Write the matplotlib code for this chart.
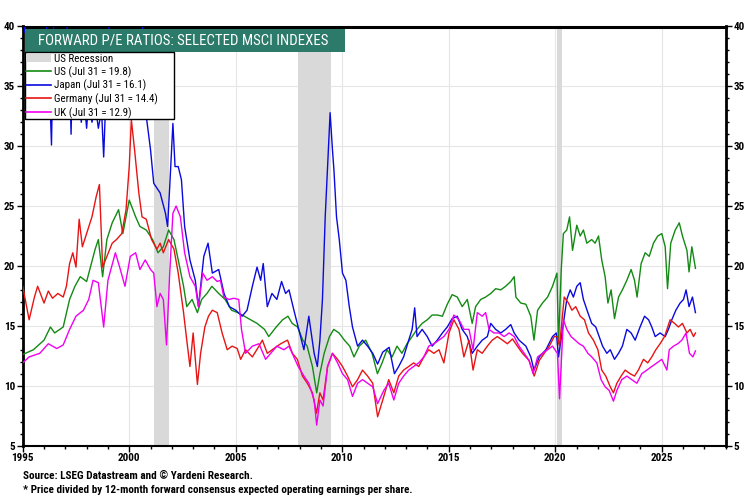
"""Forward P/E ratios: selected MSCI indexes (static matplotlib recreation)."""

import matplotlib

matplotlib.use("Agg")
import matplotlib.pyplot as plt
from matplotlib import font_manager
from matplotlib.patches import Rectangle
from matplotlib.ticker import MultipleLocator

# ---- data ------------------------------------------------------------------
us_years = [
    1995.0, 1995.5, 1996.0, 1996.3, 1996.5, 1996.9, 1997.2, 1997.45, 1997.7, 1998.0,
    1998.15, 1998.4, 1998.55, 1998.75, 1998.95, 1999.2, 1999.5, 1999.7, 2000.0, 2000.3,
    2000.5, 2000.8, 2001.1, 2001.35, 2001.6, 2001.85, 2002.1, 2002.3, 2002.55, 2002.7,
    2002.95, 2003.2, 2003.4, 2003.65, 2003.88, 2004.2, 2004.5, 2004.8, 2005.1, 2005.4,
    2005.7, 2006.0, 2006.35, 2006.55, 2006.9, 2007.2, 2007.45, 2007.65, 2007.9, 2008.15,
    2008.35, 2008.6, 2008.8, 2008.95, 2009.15, 2009.4, 2009.6, 2009.85, 2010.1, 2010.35,
    2010.55, 2010.8, 2011.1, 2011.4, 2011.65, 2011.87, 2012.1, 2012.34, 2012.57, 2012.8,
    2013.04, 2013.28, 2013.51, 2013.75, 2013.99, 2014.22, 2014.46, 2014.7, 2014.93, 2015.16,
    2015.4, 2015.63, 2015.87, 2016.1, 2016.26, 2016.5, 2016.73, 2016.97, 2017.2, 2017.44,
    2017.67, 2017.91, 2018.07, 2018.15, 2018.38, 2018.62, 2018.85, 2019.0, 2019.17, 2019.4,
    2019.64, 2019.87, 2020.08, 2020.15, 2020.28, 2020.38, 2020.54, 2020.67, 2020.81, 2021.01,
    2021.17, 2021.32, 2021.48, 2021.71, 2021.87, 2022.03, 2022.18, 2022.34, 2022.47, 2022.62,
    2022.78, 2022.97, 2023.15, 2023.36, 2023.56, 2023.72, 2023.84, 2024.03, 2024.22, 2024.41,
    2024.61, 2024.81, 2025.0, 2025.16, 2025.27, 2025.42, 2025.63, 2025.82, 2025.97, 2026.18,
    2026.28, 2026.41, 2026.58,
]
us_pe = [
    12.6, 13.0, 13.8, 14.9, 14.4, 14.9, 17.2, 18.3, 19.1, 18.7,
    19.7, 21.4, 22.2, 19.1, 22.2, 23.6, 24.7, 22.7, 25.5, 24.1,
    23.3, 23.0, 22.2, 21.1, 21.6, 23.0, 22.2, 20.5, 18.3, 16.6,
    17.2, 16.1, 17.2, 17.7, 18.3, 17.7, 17.2, 16.3, 16.1, 15.8,
    15.5, 15.2, 14.7, 14.1, 14.9, 15.5, 15.8, 15.2, 14.9, 13.8,
    13.3, 11.6, 9.4, 11.0, 12.7, 14.1, 14.7, 14.4, 13.8, 13.3,
    12.4, 13.3, 13.8, 12.7, 11.0, 11.9, 13.0, 12.4, 13.3, 12.7,
    13.5, 14.1, 14.7, 15.2, 15.5, 15.9, 15.9, 15.8, 16.8, 17.6,
    17.4, 16.6, 17.2, 15.2, 16.6, 17.2, 17.4, 17.7, 18.1, 18.0,
    18.3, 18.7, 19.1, 17.4, 16.9, 16.8, 15.8, 13.8, 16.3, 16.9,
    17.4, 18.3, 19.4, 13.5, 19.7, 22.7, 23.0, 24.1, 21.3, 23.4,
    22.5, 23.0, 21.9, 22.2, 21.9, 22.5, 20.5, 19.1, 16.9, 18.0,
    15.6, 17.4, 18.0, 18.8, 19.7, 18.8, 17.4, 20.2, 21.1, 20.8,
    21.9, 22.5, 22.7, 21.6, 18.1, 21.9, 23.0, 23.6, 22.5, 21.3,
    19.5, 21.6, 19.8,
]

japan_years = [
    1995.0, 1995.1, 1995.3, 1995.8, 1996.2, 1996.35, 1996.45, 1996.9, 1997.2, 1997.27,
    1997.35, 1997.6, 1997.75, 1997.85, 1998.0, 1998.1, 1998.25, 1998.4, 1998.55, 1998.7,
    1998.8, 1998.9, 1999.1, 1999.5, 2000.0, 2000.4, 2000.7, 2000.8, 2001.0, 2001.15,
    2001.45, 2001.7, 2001.8, 2001.9, 2002.05, 2002.15, 2002.3, 2002.45, 2002.6, 2002.85,
    2003.1, 2003.25, 2003.5, 2003.7, 2003.9, 2004.2, 2004.45, 2004.7, 2005.0, 2005.3,
    2005.53, 2005.78, 2006.0, 2006.17, 2006.29, 2006.48, 2006.7, 2006.93, 2007.15, 2007.34,
    2007.5, 2007.73, 2007.93, 2008.2, 2008.43, 2008.68, 2008.83, 2008.95, 2009.07, 2009.2,
    2009.31, 2009.43, 2009.54, 2009.61, 2009.73, 2009.86, 2010.01, 2010.17, 2010.33, 2010.48,
    2010.72, 2010.95, 2011.19, 2011.43, 2011.66, 2011.9, 2012.2, 2012.45, 2012.65, 2012.88,
    2013.12, 2013.28, 2013.4, 2013.51, 2013.75, 2013.99, 2014.22, 2014.46, 2014.7, 2014.93,
    2015.16, 2015.4, 2015.63, 2015.87, 2016.1, 2016.34, 2016.57, 2016.81, 2016.97, 2017.2,
    2017.44, 2017.67, 2017.91, 2018.07, 2018.3, 2018.62, 2018.85, 2019.0, 2019.25, 2019.56,
    2019.87, 2020.05, 2020.15, 2020.34, 2020.54, 2020.7, 2020.85, 2021.01, 2021.17, 2021.32,
    2021.53, 2021.71, 2021.9, 2022.06, 2022.22, 2022.42, 2022.58, 2022.78, 2022.97, 2023.15,
    2023.36, 2023.56, 2023.75, 2023.98, 2024.19, 2024.38, 2024.53, 2024.69, 2024.92, 2025.16,
    2025.31, 2025.47, 2025.66, 2025.86, 2026.02, 2026.14, 2026.28, 2026.44, 2026.58,
]
japan_pe = [
    42.0, 39.5, 44.0, 47.0, 38.0, 30.1, 40.0, 46.0, 36.0, 31.0,
    38.0, 35.0, 32.0, 34.5, 31.5, 34.0, 32.0, 33.5, 31.5, 33.0,
    29.1, 34.0, 42.0, 50.0, 55.0, 48.0, 37.0, 32.5, 29.7, 26.9,
    26.1, 24.4, 23.3, 26.6, 31.9, 28.3, 28.3, 27.2, 23.3, 20.5,
    18.8, 16.6, 20.8, 21.9, 19.4, 19.7, 17.7, 16.6, 16.3, 15.8,
    16.3, 18.3, 19.9, 18.8, 20.2, 16.6, 17.7, 17.2, 18.7, 17.7,
    18.0, 16.3, 14.9, 13.0, 15.8, 12.7, 11.6, 13.8, 17.2, 24.1,
    28.3, 32.8, 29.7, 28.0, 24.1, 22.2, 19.4, 18.8, 16.6, 14.9,
    13.3, 13.8, 13.3, 12.7, 11.8, 12.8, 13.2, 11.0, 11.6, 12.4,
    13.8, 14.7, 16.5, 14.1, 14.7, 14.1, 13.3, 13.8, 14.4, 14.9,
    15.6, 15.8, 14.7, 14.1, 12.7, 13.3, 13.8, 14.1, 15.2, 14.7,
    14.4, 14.7, 15.1, 14.4, 13.8, 13.3, 12.4, 11.3, 12.4, 13.0,
    14.1, 14.4, 12.4, 14.7, 17.2, 18.0, 17.4, 18.3, 18.6, 17.2,
    16.1, 15.2, 14.9, 14.1, 13.3, 12.7, 13.0, 12.2, 12.7, 13.3,
    14.7, 14.4, 13.8, 14.9, 15.8, 15.5, 14.9, 14.1, 14.4, 14.1,
    14.7, 15.5, 16.3, 16.9, 17.2, 18.0, 16.6, 17.4, 16.1,
]

germany_years = [
    1995.0, 1995.15, 1995.3, 1995.55, 1995.7, 1996.0, 1996.2, 1996.4, 1996.65, 1996.9,
    1997.05, 1997.2, 1997.35, 1997.5, 1997.65, 1997.8, 1998.0, 1998.25, 1998.45, 1998.6,
    1998.75, 1998.95, 1999.2, 1999.4, 1999.65, 1999.85, 2000.0, 2000.1, 2000.25, 2000.45,
    2000.6, 2000.8, 2001.05, 2001.3, 2001.45, 2001.6, 2001.85, 2002.1, 2002.3, 2002.55,
    2002.7, 2002.85, 2003.0, 2003.2, 2003.35, 2003.55, 2003.72, 2003.9, 2004.13, 2004.36,
    2004.6, 2004.83, 2005.07, 2005.23, 2005.46, 2005.78, 2006.09, 2006.25, 2006.48, 2006.79,
    2007.11, 2007.43, 2007.66, 2007.89, 2008.13, 2008.36, 2008.6, 2008.79, 2008.95, 2009.1,
    2009.31, 2009.54, 2009.78, 2010.01, 2010.25, 2010.48, 2010.72, 2010.95, 2011.19, 2011.43,
    2011.66, 2011.9, 2012.18, 2012.42, 2012.65, 2012.88, 2013.12, 2013.35, 2013.59, 2013.83,
    2014.06, 2014.3, 2014.54, 2014.77, 2015.01, 2015.24, 2015.48, 2015.71, 2015.95, 2016.14,
    2016.34, 2016.57, 2016.81, 2017.04, 2017.28, 2017.52, 2017.75, 2017.99, 2018.22, 2018.46,
    2018.77, 2019.01, 2019.25, 2019.48, 2019.72, 2019.95, 2020.1, 2020.2, 2020.42, 2020.62,
    2020.78, 2020.96, 2021.17, 2021.37, 2021.56, 2021.79, 2022.0, 2022.18, 2022.37, 2022.58,
    2022.73, 2022.89, 2023.09, 2023.28, 2023.51, 2023.72, 2023.9, 2024.14, 2024.34, 2024.53,
    2024.72, 2024.92, 2025.13, 2025.24, 2025.39, 2025.6, 2025.78, 2025.97, 2026.18, 2026.33,
    2026.49, 2026.58,
]
germany_pe = [
    18.3, 16.9, 15.5, 17.4, 18.3, 16.9, 17.9, 17.3, 17.7, 17.4,
    18.3, 20.2, 21.1, 19.9, 23.9, 21.6, 22.7, 24.1, 25.8, 26.8,
    19.9, 20.8, 21.9, 22.2, 22.7, 24.7, 28.3, 32.2, 29.7, 26.1,
    24.1, 23.9, 22.2, 21.4, 21.9, 21.1, 22.2, 21.4, 19.4, 16.1,
    13.8, 11.6, 14.4, 10.1, 12.7, 14.9, 15.8, 16.3, 16.1, 14.4,
    13.0, 13.3, 13.1, 12.2, 13.0, 12.4, 13.3, 13.8, 12.7, 13.1,
    13.5, 13.8, 12.7, 12.2, 10.8, 10.2, 9.4, 7.7, 9.4, 8.8,
    11.6, 12.7, 12.2, 11.6, 10.8, 9.9, 10.5, 11.3, 10.8, 10.2,
    7.4, 8.8, 10.5, 9.4, 10.8, 11.3, 11.6, 11.9, 11.6, 12.4,
    13.0, 12.7, 13.0, 11.9, 14.4, 15.5, 14.7, 12.4, 13.8, 11.3,
    13.0, 12.7, 13.3, 13.8, 14.1, 13.8, 13.5, 13.9, 13.3, 12.7,
    12.1, 10.8, 12.1, 12.7, 13.3, 14.1, 14.1, 13.3, 17.4, 16.9,
    16.3, 16.6, 15.8, 15.5, 14.4, 13.8, 13.0, 11.3, 10.8, 9.9,
    9.4, 10.2, 10.8, 11.3, 11.0, 10.8, 11.3, 12.2, 11.9, 12.4,
    13.0, 13.5, 14.1, 14.7, 15.5, 15.2, 14.9, 15.2, 14.4, 14.7,
    14.1, 14.4,
]

uk_years = [
    1995.0, 1995.3, 1995.8, 1996.2, 1996.6, 1996.9, 1997.2, 1997.5, 1997.85, 1998.1,
    1998.3, 1998.55, 1998.8, 1999.0, 1999.35, 1999.55, 1999.8, 2000.05, 2000.3, 2000.5,
    2000.75, 2001.0, 2001.15, 2001.3, 2001.45, 2001.6, 2001.75, 2001.9, 2002.05, 2002.2,
    2002.4, 2002.6, 2002.85, 2003.1, 2003.25, 2003.45, 2003.65, 2003.9, 2004.13, 2004.28,
    2004.44, 2004.68, 2004.91, 2005.14, 2005.27, 2005.46, 2005.78, 2006.09, 2006.4, 2006.64,
    2006.93, 2007.26, 2007.5, 2007.73, 2007.93, 2008.2, 2008.43, 2008.68, 2008.8, 2008.95,
    2009.1, 2009.31, 2009.54, 2009.78, 2010.01, 2010.25, 2010.48, 2010.72, 2010.95, 2011.19,
    2011.43, 2011.66, 2011.95, 2012.18, 2012.42, 2012.65, 2012.88, 2013.12, 2013.35, 2013.59,
    2013.83, 2014.06, 2014.3, 2014.54, 2014.77, 2015.01, 2015.24, 2015.48, 2015.71, 2015.95,
    2016.14, 2016.34, 2016.57, 2016.73, 2016.89, 2017.12, 2017.36, 2017.6, 2017.83, 2018.07,
    2018.3, 2018.54, 2018.77, 2018.96, 2019.17, 2019.4, 2019.64, 2019.87, 2020.1, 2020.2,
    2020.38, 2020.54, 2020.74, 2020.93, 2021.12, 2021.32, 2021.53, 2021.71, 2021.95, 2022.15,
    2022.34, 2022.53, 2022.73, 2022.89, 2023.12, 2023.36, 2023.59, 2023.83, 2024.06, 2024.3,
    2024.53, 2024.77, 2025.0, 2025.24, 2025.35, 2025.55, 2025.75, 2025.94, 2026.14, 2026.3,
    2026.46, 2026.58,
]
uk_pe = [
    11.9, 12.4, 12.7, 13.5, 13.1, 13.4, 14.7, 15.8, 16.3, 17.2,
    18.8, 18.6, 14.9, 18.8, 21.1, 19.9, 18.3, 20.8, 21.1, 19.7,
    20.5, 19.7, 19.4, 16.6, 17.7, 17.2, 13.4, 19.4, 24.4, 25.0,
    24.1, 21.1, 19.1, 18.3, 16.6, 19.4, 18.8, 19.1, 18.7, 18.8,
    17.4, 17.2, 17.3, 17.2, 14.7, 12.7, 13.3, 13.5, 12.2, 12.7,
    13.3, 13.0, 13.3, 12.4, 11.6, 10.8, 10.2, 8.8, 6.7, 8.8,
    8.3, 11.6, 12.7, 11.9, 11.0, 10.5, 9.1, 10.2, 10.5, 10.2,
    9.9, 8.5, 9.6, 10.2, 8.8, 10.2, 10.8, 11.3, 11.6, 11.9,
    12.4, 13.3, 13.5, 13.8, 14.1, 14.7, 15.9, 15.5, 14.7, 14.7,
    13.0, 16.1, 15.8, 16.1, 14.7, 14.4, 14.4, 14.1, 14.4, 14.1,
    13.3, 12.7, 12.1, 11.0, 12.4, 12.7, 13.0, 13.3, 12.7, 8.9,
    15.5, 14.7, 14.1, 13.8, 13.5, 13.3, 12.7, 12.4, 11.9, 10.5,
    9.9, 9.6, 8.7, 9.6, 10.5, 10.8, 10.5, 10.2, 11.0, 11.3,
    11.6, 11.9, 12.2, 11.3, 13.0, 13.3, 13.5, 13.8, 14.4, 12.7,
    12.4, 12.9,
]

recession_start = [2001.17, 2007.92, 2020.10]
recession_end = [2001.85, 2009.45, 2020.30]

series_labels = [
    "US (Jul 31 = 19.8)",
    "Japan (Jul 31 = 16.1)",
    "Germany (Jul 31 = 14.4)",
    "UK (Jul 31 = 12.9)",
]
title_text = "FORWARD P/E RATIOS: SELECTED MSCI INDEXES"
source_text = "Source: LSEG Datastream and \u00a9 Yardeni Research."
note_text = "* Price divided by 12-month forward consensus expected operating earnings per share."

# ---- style ------------------------------------------------------------------
GREEN = "#138a13"
BLUE = "#0a0ade"
RED = "#e81414"
MAGENTA = "#f000f0"
TEAL = "#2b7a6a"
SHADE = "#d9d9d9"
GRID = "#e6e6e6"


def _pick_font() -> str:
    names = {f.name for f in font_manager.fontManager.ttflist}
    for cand in ("Liberation Sans Narrow", "Roboto Condensed", "Liberation Sans"):
        if cand in names:
            return cand
    return "DejaVu Sans"


FONT = _pick_font()
plt.rcParams["font.family"] = [FONT, "DejaVu Sans"]


def _fit(fig, txt, target_px):
    # rescale a text object so that its rendered width matches target_px
    r = fig.canvas.get_renderer()
    w = txt.get_window_extent(renderer=r).width
    if w > 0:
        txt.set_fontsize(txt.get_fontsize() * target_px / w)


def _ax_x(px):
    # pixel column of the 750x500 image -> axes fraction
    return (px - 22.7) / 703.0


def _ax_y(py):
    # pixel row of the 750x500 image -> axes fraction
    return (445.5 - py) / 418.8


fig = plt.figure(figsize=(7.5, 5.0), dpi=100)
ax = fig.add_axes([0.0303, 0.109, 0.9373, 0.838])

for s, e in zip(recession_start, recession_end):
    ax.axvspan(s, e, color=SHADE, lw=0, zorder=1)

lw = 1.0
ax.plot(us_years, us_pe, color=GREEN, lw=lw, zorder=3)
ax.plot(japan_years, japan_pe, color=BLUE, lw=lw, zorder=3)
ax.plot(germany_years, germany_pe, color=RED, lw=lw, zorder=3)
ax.plot(uk_years, uk_pe, color=MAGENTA, lw=lw, zorder=3)

ax.set_xlim(1995, 2028)
ax.set_ylim(5, 40)
ax.xaxis.set_major_locator(MultipleLocator(5))
ax.xaxis.set_minor_locator(MultipleLocator(1))
ax.yaxis.set_major_locator(MultipleLocator(5))
ax.yaxis.set_minor_locator(MultipleLocator(1))
ax.grid(True, which="major", color=GRID, lw=0.8, zorder=0)
ax.set_axisbelow(True)

ax.tick_params(which="both", direction="out", left=True, right=True,
               labelleft=True, labelright=True, bottom=True, top=False,
               colors="black", width=1.0)
ax.tick_params(which="major", length=4, labelsize=8, pad=1.5)
ax.tick_params(which="minor", length=2)
for lab in ax.get_xticklabels() + ax.get_yticklabels():
    lab.set_fontweight("bold")

for side, w in (("left", 2.0), ("right", 2.0), ("top", 2.2), ("bottom", 1.5)):
    ax.spines[side].set_linewidth(w)
    ax.spines[side].set_color("black")

# title banner
ax.add_patch(Rectangle((_ax_x(25), _ax_y(52)), _ax_x(345) - _ax_x(25),
                       _ax_y(29) - _ax_y(52), transform=ax.transAxes,
                       facecolor=TEAL, edgecolor="none", zorder=6))
title = ax.text(_ax_x(183), _ax_y(40.5), title_text, transform=ax.transAxes,
                color="white", ha="center", va="center", fontsize=12, zorder=7)

# legend: white box drawn by hand, entries placed inside it
ax.add_patch(Rectangle((_ax_x(25), _ax_y(119)), _ax_x(174) - _ax_x(25),
                       _ax_y(52) - _ax_y(119), transform=ax.transAxes,
                       facecolor="white", edgecolor="black", lw=1.0, zorder=8))
handles = [
    Rectangle((0, 0), 1, 1, facecolor=SHADE, edgecolor="none"),
    plt.Line2D([], [], color=GREEN, lw=1.2),
    plt.Line2D([], [], color=BLUE, lw=1.2),
    plt.Line2D([], [], color=RED, lw=1.2),
    plt.Line2D([], [], color=MAGENTA, lw=1.2),
]
probe = fig.text(0, 0, series_labels[2], fontsize=8)
_fit(fig, probe, 104)
leg_fs = probe.get_fontsize()
probe.remove()

leg = ax.legend(handles, ["US Recession"] + series_labels, loc="upper left",
                bbox_to_anchor=(_ax_x(26), _ax_y(54)), fontsize=leg_fs,
                frameon=False, borderpad=0.0, labelspacing=0.2,
                handlelength=2.3, handleheight=0.7, handletextpad=0.25,
                borderaxespad=0.0)
leg.set_zorder(9)

src = fig.text(0.031, 0.048, source_text, fontsize=8, fontweight="bold",
               ha="left", va="center")
note = fig.text(0.031, 0.020, note_text, fontsize=8, fontweight="bold",
                ha="left", va="center")

fig.canvas.draw()
_fit(fig, title, 290)
_fit(fig, src, 231)
_fit(fig, note, 390)

fig.savefig("out.png", dpi=100)
